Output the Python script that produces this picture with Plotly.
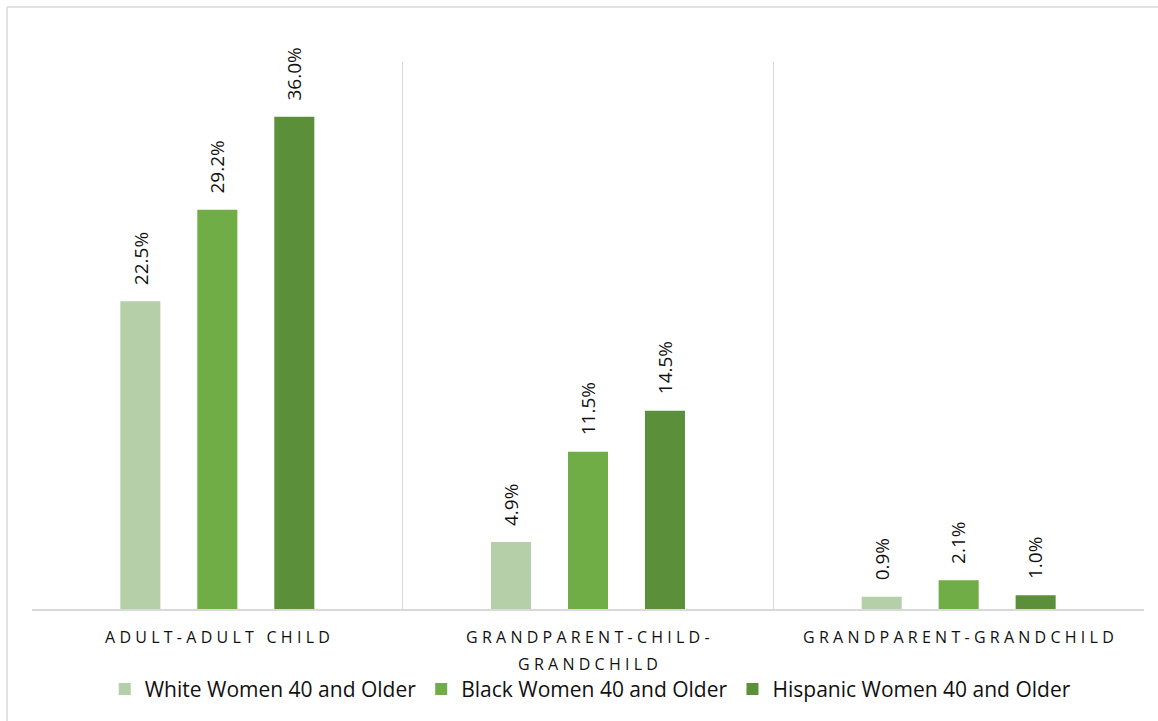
import plotly.graph_objects as go

# Household types (x categories) and the share for each group of women
categories = ["ADULT-ADULT CHILD", "GRANDPARENT-CHILD-GRANDCHILD", "GRANDPARENT-GRANDCHILD"]
label_lines = [["ADULT-ADULT CHILD"], ["GRANDPARENT-CHILD-", "GRANDCHILD"], ["GRANDPARENT-GRANDCHILD"]]
series_names = ["White Women 40 and Older", "Black Women 40 and Older", "Hispanic Women 40 and Older"]
white_vals = [22.5, 4.9, 0.9]
black_vals = [29.2, 11.5, 2.1]
hispanic_vals = [36.0, 14.5, 1.0]
colors = ["#B5CFA8", "#70AD47", "#5B8F3A"]

series_vals = [white_vals, black_vals, hispanic_vals]

GAP = "\u2009\u200a"


def spaced(text):
    # widen the tracking of the category labels
    return GAP.join(text)


fig = go.Figure()
for name, vals, col in zip(series_names, series_vals, colors):
    fig.add_trace(go.Bar(
        x=categories, y=vals, name=name,
        marker=dict(color=col, line=dict(width=0)),
        hoverinfo="skip",
    ))

# rotated value labels above each bar
step_px = 77
annotations = []
for i, vals in enumerate(series_vals):
    for cat, v in zip(categories, vals):
        annotations.append(dict(
            x=cat, y=v, xref="x", yref="y",
            text=f"{v:.1f}%", textangle=-90, showarrow=False,
            xanchor="center", yanchor="bottom",
            xshift=(i - 1) * step_px, yshift=14,
            font=dict(family="Open Sans", size=19, color="#111111"),
        ))

# category labels under the axis (wrapped lines with wide line spacing)
plot_h = 721 - 62 - 111
for cat, lines in zip(categories, label_lines):
    for k, line in enumerate(lines):
        annotations.append(dict(
            x=cat, xref="x", yref="paper",
            y=-(28 + 27 * k) / plot_h,
            text=spaced(line), showarrow=False,
            xanchor="center", yanchor="middle", borderpad=0,
            font=dict(family="Open Sans", size=16, color="#111111"),
        ))

fig.update_layout(
    width=1158, height=721,
    margin=dict(l=32, r=14, t=62, b=111),
    paper_bgcolor="white", plot_bgcolor="white",
    barmode="group", bargap=0.377, bargroupgap=0.48,
    font=dict(family="Open Sans", color="#262626"),
    showlegend=True,
    legend=dict(
        orientation="h", x=0.502, xanchor="center", y=-0.145, yanchor="middle",
        font=dict(family="Open Sans", size=21, color="#111111"),
        itemsizing="constant", tracegroupgap=0, itemwidth=30,
    ),
    annotations=annotations,
    shapes=[
        # outer chart border (left and top edges visible)
        dict(type="line", xref="paper", yref="paper", x0=-0.0225, x1=-0.0225,
             y0=1.1004, y1=-0.25, line=dict(color="#D9D9D9", width=1.5)),
        dict(type="line", xref="paper", yref="paper", x0=-0.0225, x1=1.05,
             y0=1.1004, y1=1.1004, line=dict(color="#D9D9D9", width=1.5)),
    ],
)

fig.update_xaxes(
    type="category",
    tickson="boundaries",
    showgrid=True, gridcolor="#D9D9D9", gridwidth=1,
    showline=True, linecolor="#D9D9D9", linewidth=1.5,
    ticks="", showticklabels=False,
    range=[-0.5, 2.5],
)
fig.update_yaxes(
    range=[0, 40], showgrid=False, showticklabels=False, zeroline=False,
    showline=False,
)

fig.write_html("out.html")
